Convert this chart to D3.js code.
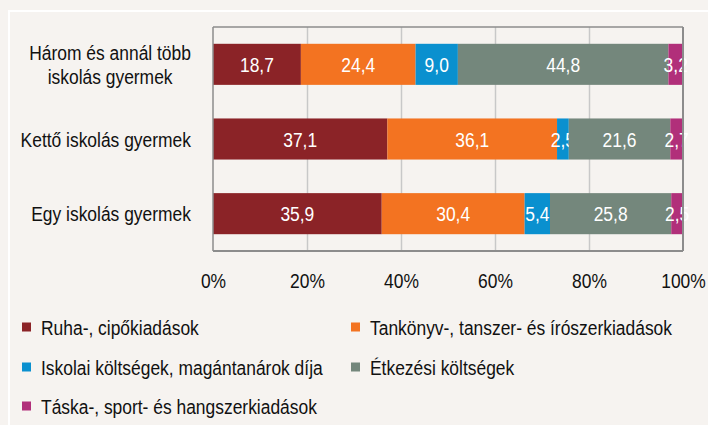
<!DOCTYPE html>
<html>
<head>
<meta charset="utf-8">
<script src="https://cdn.jsdelivr.net/npm/d3@7"></script>
<style>
  html, body { margin: 0; padding: 0; background: #f6f3f0; }
  svg { display: block; font-family: "Liberation Sans", Arial, sans-serif; }
</style>
</head>
<body>
<svg id="chart"></svg>
<script>
// Kategóriák (felülről lefelé)
const categories = [
  ["Három és annál több", "iskolás gyermek"],
  ["Kettő iskolás gyermek"],
  ["Egy iskolás gyermek"]
];
const categoryKeys = ["harom", "ketto", "egy"];

// Sorozatok
const seriesNames = [
  "Ruha-, cipőkiadások",
  "Tankönyv-, tanszer- és írószerkiadások",
  "Iskolai költségek, magántanárok díja",
  "Étkezési költségek",
  "Táska-, sport- és hangszerkiadások"
];
const seriesColors = ["#8b2327", "#f37321", "#0a90cf", "#74877c", "#b12f7a"];

// Értékek kategóriánként (%)
const ruha      = [18.7, 37.1, 35.9];
const tankonyv  = [24.4, 36.1, 30.4];
const iskolai   = [9.0, 2.5, 5.4];
const etkezesi  = [44.8, 21.6, 25.8];
const taska     = [3.2, 2.7, 2.5];

const tickValues = [0, 20, 40, 60, 80, 100];

const width = 708, height = 425;
const plot = { left: 213, right: 683, top: 27, bottom: 251 };
const fontSize = "21px";
const narrow = 0.83; // keskeny betű utánzása

const svg = d3.select("#chart").attr("width", width).attr("height", height);

// háttér és keret
svg.append("rect").attr("width", width).attr("height", height).attr("fill", "#f6f3f0");
svg.append("rect")
  .attr("x", 9).attr("y", 11)
  .attr("width", width).attr("height", height)
  .attr("fill", "none").attr("stroke", "#ffffff").attr("stroke-width", 2);

const x = d3.scaleLinear().domain([0, 100]).range([plot.left, plot.right]);
const y = d3.scaleBand()
  .domain(categoryKeys)
  .range([plot.top, plot.bottom])
  .paddingInner(0.45)
  .paddingOuter(0.225);

// rácsvonalak
svg.append("g")
  .attr("transform", `translate(0,${plot.bottom})`)
  .call(d3.axisBottom(x).tickValues(tickValues.slice(1, -1)).tickSize(-(plot.bottom - plot.top)).tickFormat(""))
  .call(g => g.select(".domain").remove())
  .call(g => g.selectAll("line").attr("stroke", "#c8c8c8").attr("stroke-width", 1.5));

// adatok összeállítása
const valueArrays = [ruha, tankonyv, iskolai, etkezesi, taska];
const rows = categoryKeys.map((k, i) => {
  const r = { key: k };
  seriesNames.forEach((s, j) => r[s] = valueArrays[j][i]);
  return r;
});
const stacked = d3.stack().keys(seriesNames)(rows);

const layers = svg.append("g")
  .selectAll("g")
  .data(stacked)
  .join("g")
  .attr("fill", (d, i) => seriesColors[i]);

layers.selectAll("rect")
  .data(d => d)
  .join("rect")
  .attr("x", d => x(d[0]))
  .attr("y", d => y(d.data.key))
  .attr("width", d => Math.min(x(d[1]), plot.right) - x(d[0]))
  .attr("height", y.bandwidth());

// keret vonalak
const border = svg.append("g").attr("stroke", "#8c8c8c").attr("fill", "none");
border.append("line").attr("x1", plot.left).attr("x2", plot.right).attr("y1", plot.top).attr("y2", plot.top).attr("stroke-width", 1.5);
border.append("line").attr("x1", plot.right).attr("x2", plot.right).attr("y1", plot.top).attr("y2", plot.bottom).attr("stroke-width", 2);
border.append("line").attr("x1", plot.left).attr("x2", plot.right).attr("y1", plot.bottom).attr("y2", plot.bottom).attr("stroke-width", 2);
border.append("line").attr("x1", plot.left).attr("x2", plot.left).attr("y1", plot.top).attr("y2", plot.bottom).attr("stroke-width", 1.5);

// adatcímkék
layers.selectAll("text")
  .data(d => d)
  .join("text")
  .attr("transform", d => `translate(${(x(d[0]) + x(Math.min(d[1], 100))) / 2},${y(d.data.key) + y.bandwidth() / 2}) scale(${narrow},1)`)
  .attr("dy", "0.36em")
  .attr("text-anchor", "middle")
  .attr("fill", "#ffffff")
  .style("font-size", fontSize)
  .text(d => d3.format(".1f")(d[1] - d[0]).replace(".", ","));

// x tengely feliratai
svg.append("g")
  .attr("transform", `translate(0,${plot.bottom})`)
  .call(d3.axisBottom(x).tickValues(tickValues).tickSize(0).tickPadding(22).tickFormat(d => d + "%"))
  .call(g => g.select(".domain").remove())
  .call(g => g.selectAll("text")
    .attr("fill", "#111111")
    .attr("transform", `scale(${narrow},1)`)
    .style("font-size", fontSize)
    .style("font-family", "'Liberation Sans', Arial, sans-serif"));

// kategória feliratok
const labelRight = 191;
categories.forEach((lines, i) => {
  const cy = y(categoryKeys[i]) + y.bandwidth() / 2;
  const t = svg.append("text")
    .attr("fill", "#111111")
    .style("font-size", fontSize)
    .attr("text-anchor", "middle");
  const lh = 23.5;
  lines.forEach((ln, j) => {
    t.append("tspan").attr("x", 0)
      .attr("y", cy + (j - (lines.length - 1) / 2) * lh)
      .attr("dy", "0.36em")
      .text(ln);
  });
  const w = d3.max(t.selectAll("tspan").nodes(), n => n.getComputedTextLength()) * narrow;
  t.attr("transform", `translate(${labelRight - w / 2},0) scale(${narrow},1)`);
});

// jelmagyarázat
const legendPos = [[22, 327], [351, 327], [22, 367], [351, 367], [22, 406]];
const legend = svg.append("g")
  .selectAll("g")
  .data(seriesNames)
  .join("g")
  .attr("transform", (d, i) => `translate(${legendPos[i][0]},${legendPos[i][1]})`);
legend.append("rect")
  .attr("x", 0).attr("y", -4.5)
  .attr("width", 9).attr("height", 9)
  .attr("fill", (d, i) => seriesColors[i]);
legend.append("text")
  .attr("transform", `translate(19,0) scale(${narrow},1)`)
  .attr("dy", "0.36em")
  .attr("fill", "#111111")
  .style("font-size", fontSize)
  .text(d => d);
</script>
</body>
</html>
